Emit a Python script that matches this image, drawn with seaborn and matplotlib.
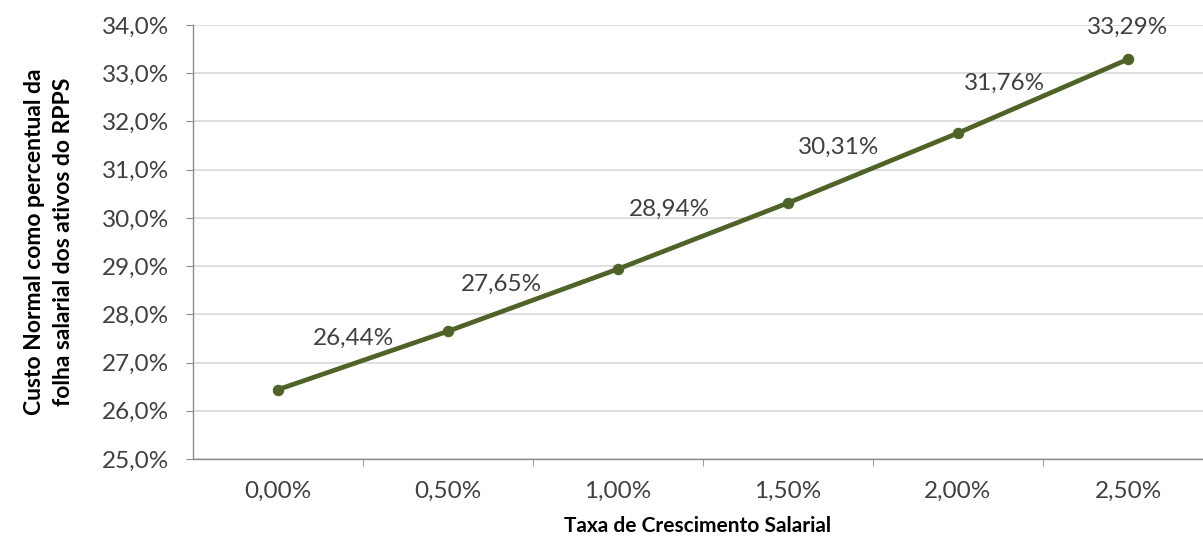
import pandas as pd
import matplotlib.pyplot as plt
import seaborn as sns

# Data
growth_labels = ["0,00%", "0,50%", "1,00%", "1,50%", "2,00%", "2,50%"]
cost_pct = [26.44, 27.65, 28.94, 30.31, 31.76, 33.29]
y_ticks = [25, 26, 27, 28, 29, 30, 31, 32, 33, 34]

df = pd.DataFrame({"pos": range(len(growth_labels)), "cost": cost_pct})

sns.set_style("white")
plt.rcParams["font.family"] = ["Lato", "DejaVu Sans"]

line_color = "#4F6228"
text_color = "#404040"

fig = plt.figure(figsize=(12.03, 5.4), dpi=100)
ax = fig.add_axes([193 / 1203, 81 / 540, 1010 / 1203, 434 / 540])

sns.lineplot(data=df, x="pos", y="cost", ax=ax, color=line_color, linewidth=3.4,
             marker="o", markersize=7.5, markeredgecolor=line_color, zorder=3)

# data labels (offsets in pixels, converted to points)
label_offsets = [(75, 51), (53, 47), (51, 60), (51, 56), (47, 50), (0, 32)]
for i, (v, off) in enumerate(zip(cost_pct, label_offsets)):
    ax.annotate(f"{v:.2f}%".replace(".", ","), (i, v),
                xytext=(off[0] * 0.72, off[1] * 0.72), textcoords="offset points",
                ha="center", va="center", fontsize=17.5, color=text_color)

ax.set_ylim(25, 34)
ax.set_xlim(-0.5, -0.5 + 1010 / 170)
ax.set_yticks(y_ticks)
ax.set_yticklabels([f"{t},0%" for t in y_ticks])
ax.set_xticks(range(len(growth_labels)))
ax.set_xticklabels(growth_labels)
ax.set_xticks([i + 0.5 for i in range(len(growth_labels) - 1)], minor=True)

ax.grid(axis="y", color="#d9d9d9", linewidth=1.2)
ax.grid(axis="x", visible=False)
ax.set_axisbelow(True)

for s in ["top", "right"]:
    ax.spines[s].set_visible(False)
for s in ["left", "bottom"]:
    ax.spines[s].set_color("#8c8c8c")
    ax.spines[s].set_linewidth(1.0)

ax.tick_params(axis="y", which="major", length=5, color="#8c8c8c", labelsize=17.5,
               labelcolor=text_color, pad=12, left=True)
ax.tick_params(axis="x", which="major", length=0, labelsize=17.5, labelcolor=text_color, pad=16)
ax.tick_params(axis="x", which="minor", length=5, color="#8c8c8c", bottom=True)

ax.set_xlabel("Taxa de Crescimento Salarial", fontsize=15, fontweight="bold",
              color="black", labelpad=10)
ax.set_ylabel("Custo Normal como percentual da\nfolha salarial dos ativos do RPPS",
              fontsize=16.5, fontweight="bold", color="black", labelpad=20,
              linespacing=1.5)

fig.savefig("out.png", dpi=100)
plt.close()
